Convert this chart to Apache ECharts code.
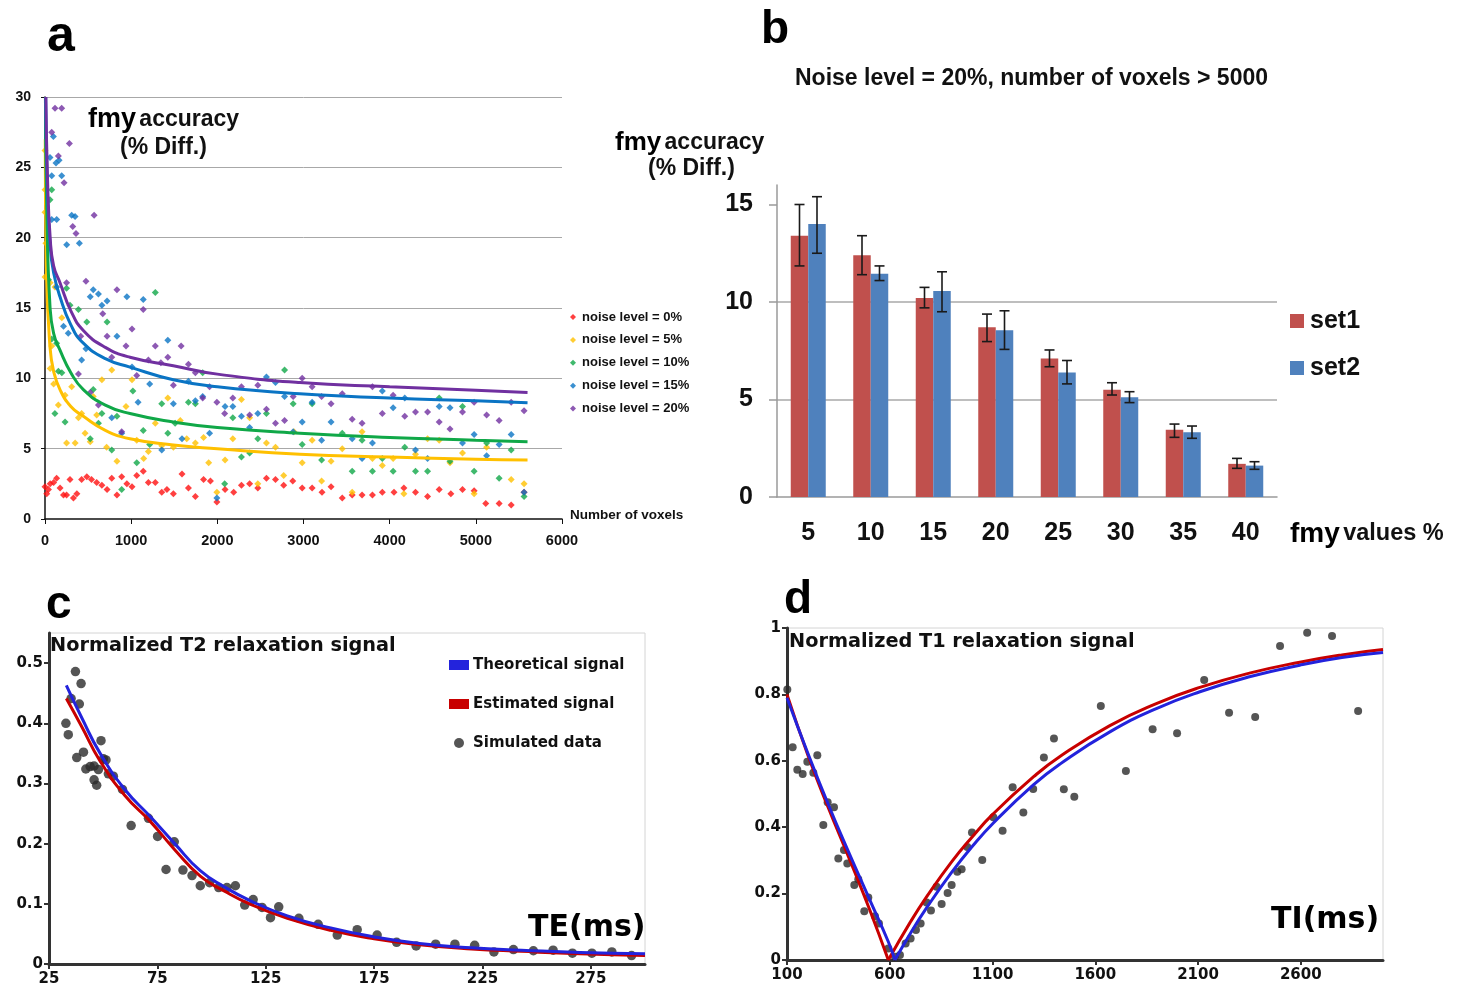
<!DOCTYPE html>
<html>
<head>
<meta charset="utf-8">
<script src="https://cdn.jsdelivr.net/npm/echarts@6/dist/echarts.min.js"></script>
<style>
  html, body { margin: 0; padding: 0; background: #fff; }
  #chart { width: 1461px; height: 987px; }
</style>
</head>
<body>
<div id="chart"></div>
<script>
// ---------- panel a : fmy accuracy vs number of voxels ----------
// scatter points [voxels, % diff]
var noise0 = [[0,2.3],[20,1.8],[40,2.1],[60,2.5],[100,2.6],[135,2.9],[175,2.2],[215,1.7],[250,1.7],[290,2.8],
  [330,1.5],[370,1.8],[425,2.8],[485,3.0],[540,2.8],[600,2.6],[660,2.4],[720,2.1],[775,2.9],[835,1.7],
  [890,3.0],[950,2.5],[1010,2.3],[1065,3.1],[1140,3.4],[1200,2.6],[1280,2.6],[1355,1.9],[1415,2.1],[1490,1.8],
  [1590,3.2],[1665,2.2],[1745,1.6],[1840,2.8],[1920,2.7],[1995,1.2],[2090,2.1],[2190,1.9],[2280,2.4],[2375,2.5],
  [2470,2.2],[2570,2.9],[2675,2.8],[2770,2.4],[2875,2.7],[2985,2.2],[3100,2.2],[3215,1.9],[3320,2.3],[3450,1.5],
  [3565,1.7],[3680,1.7],[3800,1.7],[3915,1.9],[4050,1.9],[4165,2.2],[4300,1.9],[4440,1.6],[4575,2.1],[4710,1.8],
  [4845,2.1],[4980,2.0],[5115,1.1],[5270,1.1],[5410,1.0],[5560,1.9]];
var noise5 = [[0,26.2],[0,23.4],[0,21.8],[10,19.6],[60,16.8],[0,17.2],[78,12.3],[60,10.7],[100,9.6],[155,8.1],
  [195,14.3],[115,16.5],[233,8.8],[250,5.4],[310,9.4],[350,5.4],[388,7.2],[425,7.5],[465,6.1],[525,5.5],
  [560,8.7],[600,7.4],[660,9.9],[715,5.1],[775,10.6],[835,4.1],[940,8.0],[1010,9.9],[1065,5.6],[1145,4.3],
  [1200,4.8],[1280,6.8],[1355,5.2],[1425,8.6],[1490,5.1],[1570,7.0],[1645,5.7],[1745,5.4],[1840,5.8],[1900,4.0],
  [1995,1.9],[2090,4.2],[2180,5.7],[2280,8.5],[2375,7.2],[2470,2.5],[2570,5.4],[2675,5.1],[2770,3.1],[2890,6.2],
  [2985,4.0],[3100,5.6],[3210,2.7],[3320,4.1],[3450,5.0],[3565,1.9],[3680,6.2],[3800,4.3],[3915,3.8],[4040,4.3],
  [4165,1.8],[4300,4.6],[4440,5.7],[4575,5.6],[4700,4.0],[4845,4.7],[4980,1.8],[5125,5.1],[5410,2.8],[5560,2.5]];
var noise10 = [[78,23.4],[58,22.7],[40,17.0],[78,12.8],[135,12.5],[115,7.5],[155,10.5],[195,10.4],[233,6.9],[250,16.4],
  [290,15.2],[388,14.9],[485,14.0],[525,5.7],[560,9.2],[620,6.8],[660,7.5],[720,14.0],[775,4.9],[835,7.3],
  [890,2.1],[1020,9.1],[1065,4.0],[1140,6.3],[1215,5.3],[1280,16.1],[1355,8.2],[1425,6.1],[1510,6.8],[1665,8.3],
  [1745,8.2],[1830,10.4],[2085,2.5],[2180,7.2],[2280,4.4],[2375,4.7],[2470,5.7],[2570,7.5],[2780,10.6],[2880,8.2],
  [2985,5.3],[3100,8.2],[3210,4.2],[3450,6.1],[3565,3.4],[3680,5.6],[3800,3.4],[3915,4.3],[4040,3.4],[4175,5.1],
  [4300,3.4],[4440,3.4],[4575,8.6],[4700,4.1],[4845,8.0],[4980,3.4],[5125,5.4],[5270,2.9],[5410,4.9],[5560,1.6]];
var noise15 = [[97,27.2],[58,25.7],[128,25.3],[163,25.5],[78,24.4],[194,24.4],[78,21.3],[136,21.3],[310,21.6],[349,21.5],
  [252,19.5],[399,19.6],[135,16.5],[215,13.7],[270,13.2],[425,11.3],[475,12.1],[525,15.8],[560,16.3],[620,16.0],
  [660,15.2],[720,15.5],[775,7.2],[835,13.0],[890,6.1],[950,15.8],[1010,10.8],[1080,8.3],[1140,15.6],[1215,9.6],
  [1355,4.9],[1425,12.7],[1490,8.2],[1590,5.7],[1665,9.8],[1745,8.4],[1830,8.7],[1910,6.1],[1995,1.5],[2090,8.0],
  [2180,8.0],[2280,7.3],[2375,6.5],[2470,7.5],[2570,10.1],[2675,9.7],[2780,8.7],[2880,6.2],[2985,6.9],[3100,8.3],
  [3210,5.6],[3320,6.9],[3565,5.7],[3680,4.3],[3800,5.4],[3915,9.1],[4040,7.9],[4175,8.6],[4300,4.9],[4440,4.3],
  [4575,8.0],[4700,7.9],[4845,5.4],[4980,6.0],[5125,4.5],[5270,5.3],[5410,6.0],[5560,1.9]];
var noise20 = [[116,29.2],[194,29.2],[78,27.5],[155,25.8],[283,26.7],[221,23.9],[322,20.8],[360,20.3],[570,21.6],[250,16.8],
  [475,16.9],[835,16.3],[1140,14.9],[670,14.6],[1010,13.5],[415,13.0],[720,13.0],[940,12.3],[1280,12.3],[1580,12.3],
  [775,11.5],[1200,11.3],[1425,11.5],[1345,11.1],[1665,11.0],[1745,10.4],[1065,10.2],[388,10.3],[1490,9.5],[525,9.0],
  [620,8.1],[890,6.2],[1830,8.6],[1910,9.4],[1995,8.3],[2085,7.5],[2180,8.6],[2280,9.4],[2375,7.4],[2470,9.5],
  [2570,7.8],[2675,6.8],[2780,7.0],[2880,8.7],[2985,10.0],[3100,9.4],[3210,8.7],[3320,8.2],[3450,8.9],[3565,7.1],
  [3680,6.8],[3800,9.4],[3915,7.5],[4040,8.8],[4175,7.3],[4300,7.6],[4440,7.6],[4575,6.9],[4700,6.4],[4845,7.6],
  [4980,8.3],[5125,7.4],[5270,7.0],[5410,8.3],[5560,7.7]];
// fitted curves
var fit5 = [[3,27],[15,18],[58,12.2],[100,10.5],[174,9.2],[300,8.0],[445,7.3],[700,6.3],[986,5.7],[1489,5.26],[2000,5.0],[2958,4.6],[4000,4.4],[5000,4.25],[5600,4.2]];
var fit10 = [[5,30],[20,22],[58,15.1],[100,13.2],[174,12.0],[300,10.4],[445,9.2],[700,8.1],[986,7.5],[1489,6.9],[2000,6.5],[2958,6.1],[4000,5.8],[5000,5.6],[5600,5.5]];
var fit15 = [[8,30],[25,24],[58,19.5],[100,17.5],[174,15.8],[300,13.8],[445,12.5],[700,11.4],[986,10.8],[1489,9.9],[2000,9.4],[2958,8.9],[4000,8.6],[5000,8.4],[5600,8.27]];
var fit20 = [[10,30],[30,24],[60,20],[100,18],[174,16.8],[300,14.8],[445,13.4],[700,12.2],[986,11.5],[1489,10.9],[2000,10.3],[2958,9.7],[4000,9.4],[5000,9.15],[5600,9.0]];
var noiseNames = ['noise level = 0%', 'noise level = 5%', 'noise level = 10%', 'noise level = 15%', 'noise level = 20%'];
var noiseColors = ['#ff1010', '#ffc000', '#10a848', '#0a74c4', '#7030a0'];

// ---------- panel b : bars with error bars ----------
var fmyValues = ['5', '10', '15', '20', '25', '30', '35', '40'];
var set1 = [13.4, 12.4, 10.2, 8.7, 7.1, 5.5, 3.45, 1.7];
var set1Low = [11.85, 11.4, 9.7, 7.97, 6.68, 5.23, 3.06, 1.47];
var set1High = [15.0, 13.4, 10.75, 9.38, 7.54, 5.86, 3.74, 1.98];
var set2 = [14.0, 11.45, 10.56, 8.55, 6.39, 5.11, 3.32, 1.61];
var set2Low = [12.5, 11.1, 9.5, 7.57, 5.8, 4.84, 3.01, 1.42];
var set2High = [15.4, 11.85, 11.55, 9.55, 7.0, 5.4, 3.64, 1.81];

// ---------- panel c : T2 relaxation ----------
var teTicks = [25, 75, 125, 175, 225, 275];
var t2Yticks = [0, 0.1, 0.2, 0.3, 0.4, 0.5];
var teCurve = [33, 40, 48.6, 60, 71.7, 83, 94.8, 106, 118, 135, 155, 175, 196, 220, 243, 270, 300];
var t2Theory = [0.463, 0.41, 0.35, 0.29, 0.245, 0.20, 0.155, 0.128, 0.105, 0.08, 0.06, 0.045, 0.034, 0.027, 0.023, 0.019, 0.017];
var t2Estimated = [0.441, 0.395, 0.337, 0.28, 0.237, 0.19, 0.146, 0.121, 0.099, 0.076, 0.056, 0.042, 0.032, 0.025, 0.021, 0.017, 0.014];
var t2Simulated = [[32.8,0.400],[33.9,0.381],[37.2,0.486],[39.8,0.466],[39.0,0.432],[35.2,0.441],[37.8,0.343],[40.9,0.352],
  [42.0,0.324],[44.0,0.328],[45.8,0.329],[45.8,0.306],[47.0,0.297],[47.8,0.323],[49.0,0.371],[50.1,0.341],[51.3,0.339],
  [52.4,0.316],[54.7,0.312],[58.9,0.290],[62.9,0.230],[70.9,0.242],[75.1,0.212],[79.0,0.157],[82.8,0.203],[86.8,0.156],
  [91.0,0.147],[94.8,0.130],[99.1,0.135],[103.3,0.127],[107.1,0.127],[111.0,0.130],[115.3,0.098],[119.2,0.107],
  [123.3,0.094],[127.2,0.077],[131.0,0.095],[140.3,0.076],[149.2,0.066],[158.0,0.048],[167.2,0.057],[176.4,0.048],
  [185.4,0.036],[194.4,0.030],[203.4,0.033],[212.3,0.033],[221.4,0.031],[230.3,0.020],[239.3,0.024],[248.5,0.022],
  [257.6,0.023],[266.5,0.018],[275.5,0.018],[284.7,0.020],[293.8,0.014]];

// ---------- panel d : T1 relaxation (falling and rising branches) ----------
var tiTicks = [100, 600, 1100, 1600, 2100, 2600];
var t1Yticks = [0, 0.2, 0.4, 0.6, 0.8, 1];
var tiEstFall = [100, 200, 300, 400, 500, 593];
var t1EstFall = [0.80, 0.62, 0.46, 0.31, 0.155, 0.0];
var tiTheoFall = [100, 200, 300, 400, 500, 593, 625];
var t1TheoFall = [0.79, 0.625, 0.47, 0.325, 0.185, 0.055, 0.0];
var tiEstRise = [593, 700, 779, 900, 1000, 1103, 1300, 1428, 1671, 1900, 2109, 2350, 2595, 2800, 3000];
var t1EstRise = [0.0, 0.114, 0.19, 0.295, 0.37, 0.44, 0.552, 0.613, 0.706, 0.773, 0.821, 0.864, 0.897, 0.919, 0.935];
var tiTheoRise = [625, 700, 779, 900, 1000, 1103, 1300, 1428, 1671, 1900, 2109, 2350, 2595, 2800, 3000];
var t1TheoRise = [0.0, 0.08, 0.157, 0.263, 0.341, 0.412, 0.528, 0.59, 0.687, 0.758, 0.808, 0.853, 0.888, 0.911, 0.926];
var t1Simulated = [[101.6,0.815],[127.5,0.641],[150.2,0.573],[176.2,0.560],[198.9,0.597],[228.1,0.564],[247.5,0.617],
  [276.7,0.407],[297.8,0.475],[328.6,0.460],[349.7,0.306],[377.2,0.331],[393.4,0.291],[427.5,0.226],[446.9,0.243],
  [476.1,0.147],[495.6,0.188],[528.0,0.132],[547.5,0.110],[592.9,0.035],[625.3,0.010],[649.6,0.015],[677.2,0.050],
  [701.5,0.065],[727.5,0.090],[750.2,0.110],[779.4,0.173],[800.5,0.149],[828.0,0.221],[852.4,0.169],[881.6,0.202],
  [901.0,0.226],[928.6,0.266],[949.7,0.273],[977.3,0.340],[1000,0.384],[1050,0.301],[1104,0.430],[1149,0.389],
  [1198,0.520],[1250,0.444],[1298,0.515],[1350,0.610],[1399,0.667],[1447,0.514],[1498,0.492],[1627,0.765],
  [1749,0.569],[1879,0.695],[1998,0.683],[2130,0.843],[2251,0.745],[2378,0.732],[2499,0.946],[2631,0.986],
  [2752,0.976],[2879,0.750]];

var ARIAL = '"Liberation Sans", Arial, sans-serif';
var DEJAVU = '"DejaVu Sans", sans-serif';
var BLUE = '#2323dc';
var RED = '#c80000';

function pairs(xs, ys) {
  return xs.map(function (x, i) { return [x, ys[i]]; });
}
function plain(v) { return String(v); }

// error bar drawn as an I-beam at the bar centre (offset in px from the category centre)
function errorBar(offset) {
  return function (params, api) {
    var x = api.coord([api.value(0), 0])[0] + offset;
    var lo = api.coord([api.value(0), api.value(1)])[1];
    var hi = api.coord([api.value(0), api.value(2)])[1];
    var st = { stroke: '#1a1a1a', lineWidth: 1.6 };
    return {
      type: 'group',
      children: [
        { type: 'line', shape: { x1: x, y1: lo, x2: x, y2: hi }, style: st },
        { type: 'line', shape: { x1: x - 5, y1: lo, x2: x + 5, y2: lo }, style: st },
        { type: 'line', shape: { x1: x - 5, y1: hi, x2: x + 5, y2: hi }, style: st }
      ]
    };
  };
}

var series = [];
[noise0, noise5, noise10, noise15, noise20].forEach(function (d, i) {
  series.push({
    name: noiseNames[i], type: 'scatter', xAxisIndex: 0, yAxisIndex: 0,
    symbol: 'diamond', symbolSize: 7, data: d,
    itemStyle: { color: noiseColors[i] }
  });
});
[fit5, fit10, fit15, fit20].forEach(function (d, i) {
  series.push({
    name: 'fit ' + (i + 1), type: 'line', xAxisIndex: 0, yAxisIndex: 0,
    data: d, smooth: true, symbol: 'none',
    lineStyle: { color: noiseColors[i + 1], width: 3 }
  });
});
function t1Line(name, xs, ys, color) {
  return { name: name, type: 'line', xAxisIndex: 3, yAxisIndex: 3, smooth: true, symbol: 'none',
    data: pairs(xs, ys), lineStyle: { color: color, width: 3 } };
}
series.push(
  { name: 'set1', type: 'bar', xAxisIndex: 1, yAxisIndex: 1, data: set1, barWidth: 17.5, barGap: '0%', color: '#c0504d' },
  { name: 'set2', type: 'bar', xAxisIndex: 1, yAxisIndex: 1, data: set2, barWidth: 17.5, barGap: '0%', color: '#4f81bd' },
  { name: 'set1 err', type: 'custom', xAxisIndex: 1, yAxisIndex: 1, renderItem: errorBar(-8.75), encode: { x: 0, y: [1, 2] },
    data: fmyValues.map(function (c, i) { return [i, set1Low[i], set1High[i]]; }), z: 5 },
  { name: 'set2 err', type: 'custom', xAxisIndex: 1, yAxisIndex: 1, renderItem: errorBar(8.75), encode: { x: 0, y: [1, 2] },
    data: fmyValues.map(function (c, i) { return [i, set2Low[i], set2High[i]]; }), z: 5 },
  { name: 'Estimated signal', type: 'line', xAxisIndex: 2, yAxisIndex: 2, color: RED, smooth: true, symbol: 'none',
    data: pairs(teCurve, t2Estimated), lineStyle: { color: RED, width: 3 } },
  { name: 'Theoretical signal', type: 'line', xAxisIndex: 2, yAxisIndex: 2, color: BLUE, smooth: true, symbol: 'none',
    data: pairs(teCurve, t2Theory), lineStyle: { color: BLUE, width: 3 } },
  { name: 'Simulated data', type: 'scatter', xAxisIndex: 2, yAxisIndex: 2, color: '#2a2a2a', symbolSize: 9.5,
    data: t2Simulated },
  t1Line('T1 est fall', tiEstFall, t1EstFall, RED),
  t1Line('T1 est rise', tiEstRise, t1EstRise, RED),
  t1Line('T1 theo fall', tiTheoFall, t1TheoFall, BLUE),
  t1Line('T1 theo rise', tiTheoRise, t1TheoRise, BLUE),
  { name: 'T1 simulated', type: 'scatter', xAxisIndex: 3, yAxisIndex: 3, symbolSize: 8,
    data: t1Simulated, itemStyle: { color: '#2a2a2a' } }
);

function relaxAxis(grid, min, max, ticks, margin) {
  return {
    type: 'value', gridIndex: grid, min: min, max: max,
    axisLine: { show: true, lineStyle: { color: '#333', width: 3 } },
    axisTick: { show: true, length: 5, lineStyle: { color: '#333', width: 2 }, customValues: ticks },
    axisLabel: { customValues: ticks, formatter: plain, color: '#111', fontFamily: DEJAVU, fontWeight: 'bold', fontSize: 15, margin: margin },
    splitLine: { show: false }
  };
}

var option = {
  animation: false,
  backgroundColor: '#fff',
  grid: [
    { left: 45, top: 97, width: 517, height: 422 },
    { left: 777, top: 185, width: 500, height: 312 },
    { left: 49, top: 633, width: 596, height: 332, show: true, borderColor: '#d4d4d4', borderWidth: 1 },
    { left: 787, top: 628, width: 596, height: 332, show: true, borderColor: '#d4d4d4', borderWidth: 1 }
  ],
  xAxis: [
    { type: 'value', gridIndex: 0, min: 0, max: 6000, interval: 1000,
      axisLine: { lineStyle: { color: '#111', width: 1.5 } },
      axisTick: { length: 5, lineStyle: { color: '#111' } },
      axisLabel: { formatter: plain, color: '#111', fontFamily: ARIAL, fontWeight: 'bold', fontSize: 14.5, margin: 14 },
      splitLine: { show: false } },
    { type: 'category', gridIndex: 1, data: fmyValues,
      axisLine: { lineStyle: { color: '#9a9a9a', width: 1.5 } },
      axisTick: { length: 8, lineStyle: { color: '#9a9a9a', width: 1.5 } },
      axisLabel: { color: '#111', fontFamily: ARIAL, fontWeight: 'bold', fontSize: 25, margin: 24 } },
    relaxAxis(2, 25, 300, teTicks, 8),
    relaxAxis(3, 100, 3000, tiTicks, 8)
  ],
  yAxis: [
    { type: 'value', gridIndex: 0, min: 0, max: 30, interval: 5,
      axisLine: { show: true, lineStyle: { color: '#111', width: 1.5 } },
      axisTick: { show: true, length: 4, lineStyle: { color: '#111' } },
      axisLabel: { color: '#111', fontFamily: ARIAL, fontWeight: 'bold', fontSize: 14, margin: 14 },
      splitLine: { lineStyle: { color: '#a8a8a8' }, showMinLine: false } },
    { type: 'value', gridIndex: 1, min: 0, max: 16, interval: 5,
      axisLine: { show: true, lineStyle: { color: '#9a9a9a', width: 1.5 } },
      axisTick: { show: true, length: 8, lineStyle: { color: '#9a9a9a', width: 1.5 }, customValues: [0, 5, 10, 15] },
      axisLabel: { color: '#111', fontFamily: ARIAL, fontWeight: 'bold', fontSize: 25, margin: 24, showMaxLabel: false },
      splitLine: { lineStyle: { color: '#a8a8a8', width: 1.5 }, showMinLine: false, showMaxLine: false } },
    relaxAxis(2, 0, 0.55, t2Yticks, 6),
    relaxAxis(3, 0, 1, t1Yticks, 6)
  ],
  legend: [
    { orient: 'vertical', left: 570, top: 310, padding: 0, itemWidth: 6, itemHeight: 6, itemGap: 8.9, icon: 'diamond',
      data: noiseNames, selectedMode: false,
      textStyle: { color: '#111', fontFamily: ARIAL, fontWeight: 'bold', fontSize: 13, lineHeight: 14, padding: [0, 0, 0, 1] } },
    { orient: 'vertical', left: 1290, top: 308, padding: 0, itemWidth: 14, itemHeight: 14, itemGap: 21, icon: 'rect',
      data: ['set1', 'set2'], selectedMode: false,
      textStyle: { color: '#111', fontFamily: ARIAL, fontWeight: 'bold', fontSize: 25, lineHeight: 26, padding: [0, 0, 0, 1] } },
    { orient: 'vertical', left: 449, top: 656, padding: 0, itemWidth: 20, itemHeight: 10, itemGap: 21, selectedMode: false,
      data: [{ name: 'Theoretical signal', icon: 'rect' }, { name: 'Estimated signal', icon: 'rect' }, { name: 'Simulated data', icon: 'circle' }],
      textStyle: { color: '#111', fontFamily: DEJAVU, fontWeight: 'bold', fontSize: 15, lineHeight: 18, padding: [0, 0, 0, -1] } }
  ],
  graphic: [
    // panel letters
    { type: 'text', left: 47, top: 12, style: { text: 'a', font: 'bold 50px ' + ARIAL, fill: '#000' } },
    { type: 'text', left: 761, top: 7, style: { text: 'b', font: 'bold 46px ' + ARIAL, fill: '#000' } },
    { type: 'text', left: 46, top: 582, style: { text: 'c', font: 'bold 46px ' + ARIAL, fill: '#000' } },
    { type: 'text', left: 784, top: 577, style: { text: 'd', font: 'bold 46px ' + ARIAL, fill: '#000' } },
    // panel a
    { type: 'text', left: 88, top: 106, style: {
        text: '{b|fmy} {n|accuracy}',
        rich: {
          b: { fontFamily: ARIAL, fontWeight: 'bold', fontSize: 27, fill: '#000' },
          n: { fontFamily: ARIAL, fontWeight: 'bold', fontSize: 23, fill: '#111' }
        } } },
    { type: 'text', left: 120, top: 136, style: { text: '(% Diff.)', font: 'bold 23px ' + ARIAL, fill: '#111' } },
    { type: 'text', left: 570, top: 508, style: { text: 'Number of voxels', font: 'bold 13.5px ' + ARIAL, fill: '#111' } },
    // panel b
    { type: 'text', left: 795, top: 67, style: { text: 'Noise level = 20%, number of voxels > 5000', font: 'bold 23px ' + ARIAL, fill: '#111' } },
    { type: 'text', left: 615, top: 130, style: {
        text: '{b|fmy} {n|accuracy}',
        rich: {
          b: { fontFamily: ARIAL, fontWeight: 'bold', fontSize: 26, fill: '#000' },
          n: { fontFamily: ARIAL, fontWeight: 'bold', fontSize: 23, fill: '#111' }
        } } },
    { type: 'text', left: 648, top: 157, style: { text: '(% Diff.)', font: 'bold 23px ' + ARIAL, fill: '#111' } },
    { type: 'text', left: 1290, top: 520, style: {
        text: '{b|fmy} {n|values %}',
        rich: {
          b: { fontFamily: ARIAL, fontWeight: 'bold', fontSize: 28, fill: '#000' },
          n: { fontFamily: ARIAL, fontWeight: 'bold', fontSize: 23.5, fill: '#111' }
        } } },
    // panel c
    { type: 'text', left: 50, top: 636, style: { text: 'Normalized T2 relaxation signal', font: 'bold 19.3px ' + DEJAVU, fill: '#111' } },
    { type: 'text', left: 528, top: 913, style: { text: 'TE(ms)', font: 'bold 30px ' + DEJAVU, fill: '#000' } },
    // panel d
    { type: 'text', left: 789, top: 632, style: { text: 'Normalized T1 relaxation signal', font: 'bold 19.3px ' + DEJAVU, fill: '#111' } },
    { type: 'text', left: 1271, top: 905, style: { text: 'TI(ms)', font: 'bold 30px ' + DEJAVU, fill: '#000' } }
  ],
  series: series
};

var chart = echarts.init(document.getElementById('chart'), null, { renderer: 'canvas' });
chart.setOption(option);
</script>
</body>
</html>
